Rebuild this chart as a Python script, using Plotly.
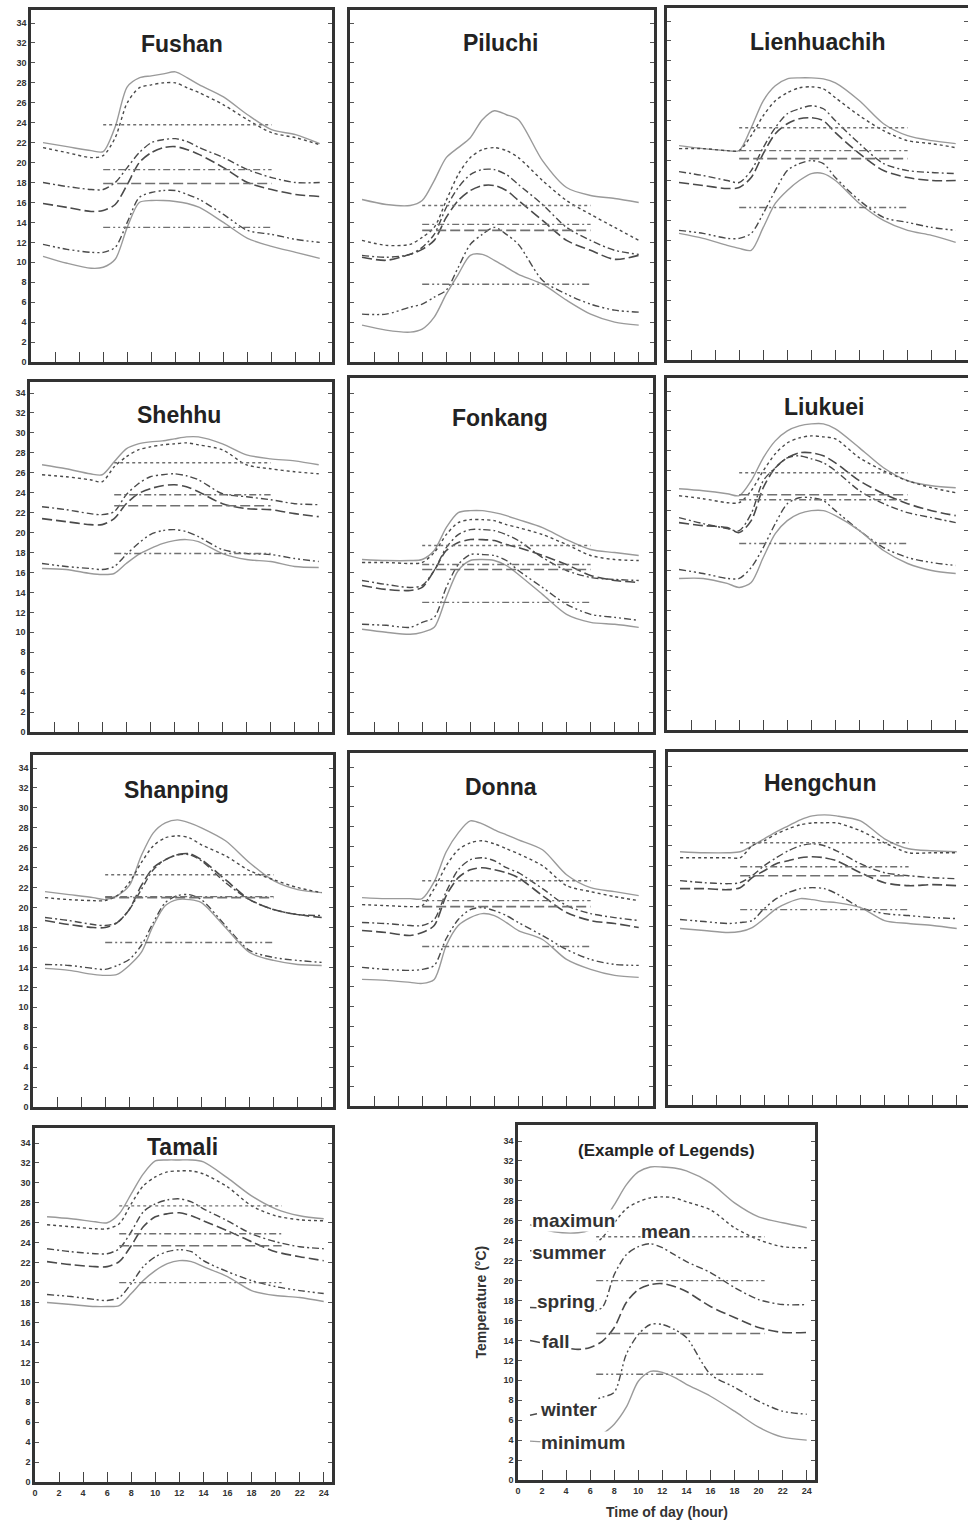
import plotly.graph_objects as go

W, H = 968, 1525

HOURS = [1, 3, 5, 6, 7, 8, 9, 10, 11, 12, 13, 14, 16, 18, 20, 22, 24]
SERIES = ["maximum", "summer", "spring", "fall", "winter", "minimum"]
MEAN_SERIES = ["summer", "spring", "fall", "winter"]
Y_TICKS = list(range(0, 35, 2))
X_TICKS = list(range(0, 25, 2))

FUSHAN = dict(
    maximum=[22.0, 21.6, 21.2, 21.1, 23.6, 27.6, 28.5, 28.7, 28.9, 29.1, 28.5, 27.8, 26.6, 24.8, 23.3, 22.8, 21.9],
    summer=[21.5, 21.0, 20.5, 20.7, 22.5, 26.0, 27.5, 27.8, 28.0, 28.0, 27.5, 27.0, 25.8, 24.3, 23.0, 22.5, 21.8],
    spring=[18.0, 17.6, 17.3, 17.3, 18.0, 19.5, 21.0, 22.0, 22.3, 22.4, 22.1, 21.5, 20.5, 19.3, 18.5, 18.0, 18.0],
    fall=[15.9, 15.5, 15.1, 15.2, 15.8, 17.8, 20.0, 21.0, 21.5, 21.6, 21.3, 20.8, 19.5, 18.0, 17.3, 16.8, 16.6],
    winter=[11.8, 11.3, 11.0, 11.0, 11.5, 14.0, 16.5, 17.0, 17.2, 17.2, 16.8, 16.3, 14.8, 13.2, 12.8, 12.3, 12.0],
    minimum=[10.6, 9.9, 9.4, 9.5, 10.3, 13.5, 16.0, 16.2, 16.2, 16.1, 15.9, 15.5, 14.0, 12.4, 11.6, 11.0, 10.4],
)
FUSHAN_MEANS = [23.8, 19.3, 17.9, 13.5]

PILUCHI = dict(
    maximum=[16.3, 15.8, 15.7, 16.2, 18.2, 20.5, 21.5, 22.5, 24.3, 25.2, 24.8, 24.3, 20.2, 17.5, 16.7, 16.4, 16.0],
    summer=[12.2, 11.7, 11.8, 12.5, 13.5, 16.2, 18.8, 20.5, 21.3, 21.5, 21.2, 20.5, 18.2, 16.2, 14.8, 13.5, 12.2],
    spring=[10.7, 10.5, 10.8, 11.5, 12.8, 15.5, 17.5, 18.8, 19.3, 19.3, 18.8, 17.8, 15.8, 13.5, 12.2, 11.2, 10.8],
    fall=[10.5, 10.2, 10.8, 11.3, 12.2, 14.5, 16.2, 17.2, 17.7, 17.7, 17.2, 16.2, 14.2, 12.2, 11.2, 10.3, 10.7],
    winter=[4.8, 4.8, 5.5, 5.8, 6.5, 7.2, 9.5, 11.8, 12.8, 13.5, 12.8, 11.8, 8.2, 6.8, 5.8, 5.2, 5.0],
    minimum=[3.7, 3.2, 3.0, 3.3, 4.5, 6.8, 8.8, 10.7, 10.8, 10.2, 9.5, 8.8, 7.8, 6.2, 4.8, 4.0, 3.7],
)
PILUCHI_MEANS = [15.7, 13.8, 13.2, 7.8]

LIENHUACHIH = dict(
    maximum=[21.5, 21.2, 21.0, 21.0, 23.3, 26.0, 27.5, 28.2, 28.3, 28.3, 28.2, 27.8, 26.0, 23.7, 22.5, 22.0, 21.7],
    summer=[21.2, 21.2, 21.0, 21.0, 22.5, 24.5, 26.0, 26.8, 27.3, 27.4, 27.2, 26.3, 24.5, 23.0, 22.0, 21.7, 21.3],
    spring=[18.9, 18.5, 18.0, 17.8, 19.0, 21.3, 23.3, 24.7, 25.2, 25.5, 25.2, 24.0, 21.7, 19.7, 19.0, 18.8, 18.7],
    fall=[17.8, 17.5, 17.2, 17.3, 18.3, 20.7, 22.7, 23.7, 24.2, 24.3, 24.0, 22.8, 20.7, 19.0, 18.3, 18.0, 18.0],
    winter=[13.0, 12.7, 12.2, 12.2, 12.7, 14.7, 17.0, 19.0, 19.7, 20.0, 19.7, 18.3, 16.0, 14.3, 13.8, 13.3, 13.0],
    minimum=[12.7, 12.2, 11.5, 11.2, 11.0, 13.3, 15.7, 17.0, 18.0, 18.7, 18.7, 18.0, 15.7, 14.0, 13.0, 12.5, 11.8],
)
LIENHUACHIH_MEANS = [23.3, 21.0, 20.2, 15.3]

SHEHHU = dict(
    maximum=[26.8, 26.4, 25.9, 25.8, 27.1, 28.4, 28.9, 29.1, 29.2, 29.4, 29.6, 29.6, 28.9, 27.8, 27.4, 27.2, 26.8],
    summer=[25.8, 25.6, 25.3, 25.1, 26.6, 27.6, 28.3, 28.6, 28.8, 28.9, 29.0, 28.8, 28.3, 26.8, 26.4, 26.1, 25.9],
    spring=[22.6, 22.3, 21.9, 21.8, 22.1, 23.8, 24.9, 25.6, 25.8, 25.9, 25.7, 25.3, 23.9, 23.6, 23.3, 22.9, 22.8],
    fall=[21.4, 21.1, 20.8, 20.8, 21.4, 22.9, 23.9, 24.4, 24.7, 24.8, 24.6, 24.1, 22.9, 22.4, 22.3, 21.9, 21.6],
    winter=[16.9, 16.6, 16.4, 16.3, 16.6, 17.8, 18.9, 19.8, 20.2, 20.3, 20.1, 19.6, 18.3, 17.9, 17.8, 17.4, 17.1],
    minimum=[16.4, 16.3, 15.9, 15.8, 15.9, 16.9, 17.8, 18.4, 18.9, 19.2, 19.3, 19.1, 17.9, 17.3, 17.1, 16.6, 16.5],
)
SHEHHU_MEANS = [27.0, 23.8, 22.7, 17.9]

FONKANG = dict(
    maximum=[17.3, 17.2, 17.2, 17.3, 18.2, 20.5, 22.0, 22.2, 22.2, 22.0, 21.7, 21.3, 20.5, 19.3, 18.3, 18.0, 17.7],
    summer=[17.0, 17.0, 16.9, 17.0, 18.0, 19.8, 21.0, 21.3, 21.3, 21.2, 20.8, 20.5, 19.8, 18.8, 17.7, 17.3, 17.2],
    spring=[15.2, 14.8, 14.5, 14.7, 16.2, 18.5, 19.8, 20.3, 20.3, 20.2, 19.8, 19.2, 17.5, 16.2, 15.5, 15.3, 15.2],
    fall=[14.7, 14.3, 14.2, 14.5, 16.2, 18.2, 19.0, 19.3, 19.3, 19.2, 18.8, 18.5, 17.7, 16.8, 15.7, 15.2, 15.0],
    winter=[10.8, 10.7, 10.5, 11.0, 11.5, 14.5, 16.8, 17.8, 17.8, 17.7, 17.2, 16.2, 14.5, 12.8, 11.8, 11.5, 11.2],
    minimum=[10.3, 10.0, 9.8, 10.0, 10.5, 13.5, 16.2, 17.2, 17.3, 17.2, 16.7, 15.8, 13.8, 11.8, 11.0, 10.8, 10.5],
)
FONKANG_MEANS = [18.7, 16.8, 16.3, 13.0]

LIUKUEI = dict(
    maximum=[24.2, 24.0, 23.7, 23.5, 25.0, 27.3, 29.0, 30.0, 30.5, 30.7, 30.7, 30.2, 28.3, 26.3, 25.0, 24.5, 24.3],
    summer=[23.5, 23.2, 22.8, 22.8, 24.0, 26.0, 27.7, 28.8, 29.3, 29.5, 29.4, 29.2, 27.3, 26.0, 25.0, 24.3, 23.8],
    spring=[21.3, 20.7, 20.2, 20.0, 21.7, 25.0, 26.3, 27.3, 27.5, 27.2, 26.8, 26.0, 24.0, 22.7, 21.8, 21.3, 20.8],
    fall=[20.8, 20.5, 20.3, 19.8, 21.0, 24.3, 26.3, 27.3, 27.8, 27.8, 27.5, 26.8, 25.0, 23.7, 22.7, 22.0, 21.5],
    winter=[16.1, 15.7, 15.2, 15.2, 16.3, 18.3, 20.7, 22.7, 23.3, 23.3, 23.0, 22.0, 20.0, 18.3, 17.3, 16.8, 16.5],
    minimum=[15.2, 15.2, 14.7, 14.3, 14.8, 17.3, 19.7, 21.0, 21.7, 22.0, 22.0, 21.5, 20.0, 18.0, 16.7, 16.0, 15.7],
)
LIUKUEI_MEANS = [25.8, 23.1, 23.6, 18.7]

SHANPING = dict(
    maximum=[21.6, 21.3, 21.0, 20.8, 21.2, 22.2, 25.2, 27.5, 28.5, 28.8, 28.5, 28.0, 26.7, 24.5, 22.7, 21.8, 21.5],
    summer=[21.0, 20.8, 20.7, 20.7, 21.2, 22.5, 24.5, 26.2, 27.0, 27.2, 27.0, 26.3, 25.2, 23.7, 22.8, 22.0, 21.5],
    spring=[19.0, 18.7, 18.3, 18.2, 18.5, 19.8, 21.8, 23.8, 24.8, 25.3, 25.3, 24.7, 22.5, 20.8, 19.8, 19.3, 19.2],
    fall=[18.7, 18.3, 18.0, 18.0, 18.5, 19.8, 22.2, 24.0, 24.8, 25.3, 25.4, 24.8, 22.8, 20.8, 19.8, 19.3, 19.0],
    winter=[14.3, 14.2, 13.9, 13.8, 14.2, 14.8, 16.2, 18.5, 20.5, 21.2, 21.3, 20.8, 18.2, 15.7, 15.0, 14.7, 14.5],
    minimum=[13.9, 13.7, 13.3, 13.2, 13.3, 14.2, 15.5, 18.2, 20.2, 20.8, 20.8, 20.5, 18.0, 15.5, 14.7, 14.3, 14.2],
)
SHANPING_MEANS = [23.3, 21.1, 21.0, 16.5]

DONNA = dict(
    maximum=[20.9, 20.8, 20.8, 20.8, 22.5, 25.5, 27.4, 28.6, 28.3, 27.7, 27.2, 26.7, 25.7, 23.2, 21.9, 21.5, 21.1],
    summer=[20.2, 20.1, 20.0, 20.1, 21.8, 24.1, 25.7, 26.4, 26.6, 26.3, 25.8, 25.3, 24.1, 22.1, 21.5, 21.0, 20.6],
    spring=[18.4, 18.3, 18.1, 18.1, 18.7, 21.5, 23.7, 24.7, 24.9, 24.6, 23.9, 23.4, 21.8, 20.1, 19.3, 18.9, 18.6],
    fall=[17.6, 17.4, 17.1, 17.4, 18.1, 21.1, 22.9, 23.7, 23.9, 23.7, 23.4, 22.9, 21.1, 19.4, 18.6, 18.3, 17.9],
    winter=[13.9, 13.7, 13.6, 13.7, 14.1, 16.8, 18.7, 19.7, 19.9, 19.6, 19.1, 18.4, 17.1, 15.7, 14.7, 14.2, 14.1],
    minimum=[12.7, 12.6, 12.4, 12.3, 12.7, 16.1, 18.1, 18.9, 19.3, 19.1, 18.4, 17.6, 16.7, 14.7, 13.7, 13.1, 12.9],
)
DONNA_MEANS = [22.6, 20.6, 20.0, 16.0]

HENGCHUN = dict(
    maximum=[25.4, 25.3, 25.3, 25.4, 26.0, 26.7, 27.4, 28.0, 28.6, 29.0, 29.1, 29.0, 28.5, 26.7, 25.7, 25.5, 25.4],
    summer=[24.8, 24.8, 24.8, 24.8, 26.0, 26.5, 27.2, 27.7, 28.1, 28.3, 28.3, 28.3, 27.5, 26.3, 25.3, 25.3, 25.3],
    spring=[22.5, 22.3, 22.2, 22.3, 23.0, 24.0, 24.8, 25.5, 26.0, 26.2, 26.0, 25.5, 24.2, 23.3, 23.0, 22.8, 22.7],
    fall=[21.7, 21.7, 21.6, 21.8, 22.8, 23.5, 24.2, 24.5, 24.8, 24.9, 24.8, 24.5, 23.3, 22.3, 22.0, 22.1, 22.0],
    winter=[18.6, 18.4, 18.2, 18.3, 18.5, 19.7, 20.7, 21.3, 21.7, 21.8, 21.7, 21.2, 19.8, 19.2, 19.0, 18.8, 18.7],
    minimum=[17.7, 17.5, 17.3, 17.4, 17.8, 18.7, 19.7, 20.3, 20.7, 20.6, 20.4, 20.3, 19.8, 18.5, 18.2, 18.0, 17.7],
)
HENGCHUN_MEANS = [26.3, 23.9, 23.0, 19.6]

TAMALI = dict(
    maximum=[26.6, 26.4, 26.1, 26.0, 26.9, 28.9, 30.9, 32.2, 32.3, 32.3, 32.3, 32.1, 30.5, 28.7, 27.4, 26.7, 26.4],
    summer=[25.8, 25.6, 25.4, 25.4, 25.9, 27.9, 29.7, 30.6, 31.1, 31.2, 31.2, 30.9, 29.6, 27.7, 26.7, 26.3, 26.2],
    spring=[23.4, 23.1, 22.9, 22.9, 23.4, 25.1, 27.1, 27.9, 28.3, 28.4, 28.1, 27.4, 26.2, 24.9, 24.1, 23.6, 23.4],
    fall=[22.1, 21.8, 21.6, 21.6, 22.1, 23.7, 25.6, 26.6, 26.9, 27.0, 26.7, 26.2, 25.2, 24.1, 23.1, 22.6, 22.2],
    winter=[18.8, 18.6, 18.3, 18.2, 18.5, 19.9, 21.6, 22.6, 23.1, 23.3, 23.1, 22.2, 21.1, 20.2, 19.6, 19.2, 18.9],
    minimum=[18.0, 17.8, 17.6, 17.6, 17.7, 18.9, 20.2, 21.2, 21.9, 22.2, 22.1, 21.6, 20.6, 19.2, 18.7, 18.5, 18.1],
)
TAMALI_MEANS = [27.7, 24.9, 23.7, 20.0]

EXAMPLE = dict(
    maximum=[25.6, 24.9, 24.8, 25.1, 25.9, 27.6, 29.6, 30.9, 31.4, 31.4, 31.3, 31.0, 29.8, 27.8, 26.4, 25.8, 25.3],
    summer=[23.0, 23.0, 23.0, 23.4, 24.3, 25.8, 27.2, 27.9, 28.3, 28.4, 28.3, 27.9, 27.1, 25.3, 24.1, 23.4, 23.3],
    spring=[17.3, 17.2, 17.0, 16.9, 17.3, 20.6, 22.6, 23.4, 23.7, 23.3, 22.6, 21.9, 20.8, 19.3, 18.1, 17.6, 17.6],
    fall=[14.0, 13.5, 13.1, 13.3, 13.9, 15.3, 17.8, 19.1, 19.6, 19.7, 19.4, 18.9, 17.4, 16.3, 15.3, 14.8, 14.8],
    winter=[6.5, 7.0, 7.5, 7.9, 8.3, 8.8, 12.6, 14.6, 15.6, 15.6, 15.1, 14.3, 10.6, 9.3, 7.9, 6.9, 6.6],
    minimum=[3.9, 3.8, 3.8, 3.9, 4.6, 5.6, 7.3, 9.9, 10.9, 10.8, 10.3, 9.6, 8.4, 6.9, 5.3, 4.3, 4.0],
)
EXAMPLE_MEANS = [24.4, 20.0, 14.7, 10.6]

STATIONS = ["Fushan", "Piluchi", "Lienhuachih", "Shehhu", "Fonkang", "Liukuei",
            "Shanping", "Donna", "Hengchun", "Tamali", "(Example of Legends)"]
STATION_DATA = [FUSHAN, PILUCHI, LIENHUACHIH, SHEHHU, FONKANG, LIUKUEI,
                SHANPING, DONNA, HENGCHUN, TAMALI, EXAMPLE]
STATION_MEANS = [FUSHAN_MEANS, PILUCHI_MEANS, LIENHUACHIH_MEANS, SHEHHU_MEANS,
                 FONKANG_MEANS, LIUKUEI_MEANS, SHANPING_MEANS, DONNA_MEANS,
                 HENGCHUN_MEANS, TAMALI_MEANS, EXAMPLE_MEANS]
# hours covered by the horizontal mean lines
MEAN_SPANS = [(6, 20), (6, 20), (6, 20), (7, 20), (6, 20), (6, 20),
              (6, 20), (6, 20), (6, 20), (7, 20.5), (6.5, 20.5)]

LEGEND_LABELS = ["maximun", "mean", "summer", "spring", "fall", "winter", "minimum"]
LEGEND_LABEL_X = [4.6, 12.3, 4.3, 4.0, 3.1, 4.2, 5.4]
LEGEND_LABEL_Y = [26.0, 24.9, 22.8, 17.9, 13.9, 7.1, 3.8]

# ---------------- layout / style ----------------
BOXES = [(31, 10, 332, 362), (350, 10, 654, 362), (667, 8, 968, 360),
         (30, 382, 332, 732), (350, 378, 653, 732), (667, 378, 968, 730),
         (33, 755, 333, 1107), (350, 753, 653, 1106), (668, 752, 968, 1105),
         (35, 1128, 332, 1482), (518, 1125, 815, 1480)]
TITLE_DY = [34, 33, 34, 33, 40, 29, 35, 34, 31, 19, 25]
TITLE_DX = [0, -2, 0, -2, -2, 7, -6, -1, 2, -1, 0]
YLABEL_PANELS = {0, 3, 6, 9, 10}
XLABEL_PANELS = {9, 10}

DARK = "#4a4a4a"
STYLE = {
    "maximum": dict(color="#9a9a9a", width=1.4, dash="solid"),
    "summer": dict(color=DARK, width=1.4, dash="3px,3px"),
    "spring": dict(color=DARK, width=1.4, dash="7px,3px,2px,3px"),
    "fall": dict(color=DARK, width=1.6, dash="10px,4px"),
    "winter": dict(color=DARK, width=1.4, dash="7px,3px,2px,3px,2px,3px"),
    "minimum": dict(color="#9a9a9a", width=1.4, dash="solid"),
}
MEAN_COLOR = "#707070"

fig = go.Figure()
annotations = []
TICKFONT = dict(family="Liberation Sans, Arial", size=9, color="#333", weight="bold")

for i, (name, data, means, span, box) in enumerate(
        zip(STATIONS, STATION_DATA, STATION_MEANS, MEAN_SPANS, BOXES)):
    n = "" if i == 0 else str(i + 1)
    l, t, r, b = box
    xmax = (r - l) / 12.03
    ymax = (b - t) / 9.97
    for s in SERIES:
        fig.add_trace(go.Scatter(
            x=HOURS, y=data[s], mode="lines", xaxis="x" + n, yaxis="y" + n,
            line=dict(shape="spline", smoothing=0.8, **STYLE[s]),
            showlegend=False, hoverinfo="skip"))
    for s, m in zip(MEAN_SERIES, means):
        st = dict(STYLE[s])
        st["color"] = MEAN_COLOR
        fig.add_trace(go.Scatter(
            x=[span[0], span[1]], y=[m, m], mode="lines", xaxis="x" + n, yaxis="y" + n,
            line=st, showlegend=False, hoverinfo="skip"))

    fig.update_layout(**{
        "xaxis" + n: dict(
            domain=[l / W, min(r / W, 1.0)], range=[0, xmax], anchor="y" + n,
            showline=True, linecolor="#333", linewidth=2.5, mirror=True,
            ticks="inside", ticklen=10, tickwidth=1.3, tickcolor="#444",
            tickmode="array", tickvals=X_TICKS, ticktext=[str(v) for v in X_TICKS],
            showgrid=False, zeroline=False, showticklabels=i in XLABEL_PANELS,
            tickfont=TICKFONT, automargin=False),
        "yaxis" + n: dict(
            domain=[1 - b / H, 1 - t / H], range=[0, ymax], anchor="x" + n,
            showline=True, linecolor="#333", linewidth=2.5, mirror="ticks",
            ticks="inside", ticklen=4, tickwidth=1.2, tickcolor="#555",
            tickmode="array", tickvals=Y_TICKS, ticktext=[str(v) for v in Y_TICKS],
            showgrid=False, zeroline=False, showticklabels=i in YLABEL_PANELS,
            tickfont=TICKFONT, automargin=False),
    })

    is_example = i == 10
    annotations.append(dict(
        text=f"<b>{name}</b>", xref=f"x{n} domain", yref=f"y{n} domain",
        x=0.5, y=1 - TITLE_DY[i] / (b - t), xanchor="center", yanchor="middle",
        xshift=TITLE_DX[i], showarrow=False,
        font=dict(family="Liberation Sans, Arial", size=17 if is_example else 23, color="#222")))

# legend labels in the example panel
for txt, lx, ly in zip(LEGEND_LABELS, LEGEND_LABEL_X, LEGEND_LABEL_Y):
    annotations.append(dict(
        text=txt, xref="x11", yref="y11", x=lx, y=ly, xanchor="center", yanchor="middle",
        showarrow=False, bgcolor="white", borderpad=0,
        font=dict(family="Liberation Sans, Arial", size=19, color="#333", weight="bold")))

# axis titles of the example panel
l, t, r, b = BOXES[10]
annotations.append(dict(
    text="Temperature (°C)", xref="paper", yref="paper", x=480 / W, y=1 - (t + b) / 2 / H,
    xanchor="center", yanchor="middle", textangle=-90, showarrow=False,
    font=dict(family="Liberation Sans, Arial", size=14, color="#333", weight="bold")))
annotations.append(dict(
    text="Time of day (hour)", xref="paper", yref="paper", x=(l + r) / 2 / W, y=1 - 1512 / H,
    xanchor="center", yanchor="middle", showarrow=False,
    font=dict(family="Liberation Sans, Arial", size=14, color="#333", weight="bold")))

fig.update_layout(
    width=W, height=H, margin=dict(l=0, r=0, t=0, b=0, autoexpand=False),
    paper_bgcolor="white", plot_bgcolor="white",
    annotations=annotations, showlegend=False,
)

fig.write_html("out.html", config={"displayModeBar": False},
               post_script="document.body.style.margin='0';document.body.style.overflow='hidden';")
